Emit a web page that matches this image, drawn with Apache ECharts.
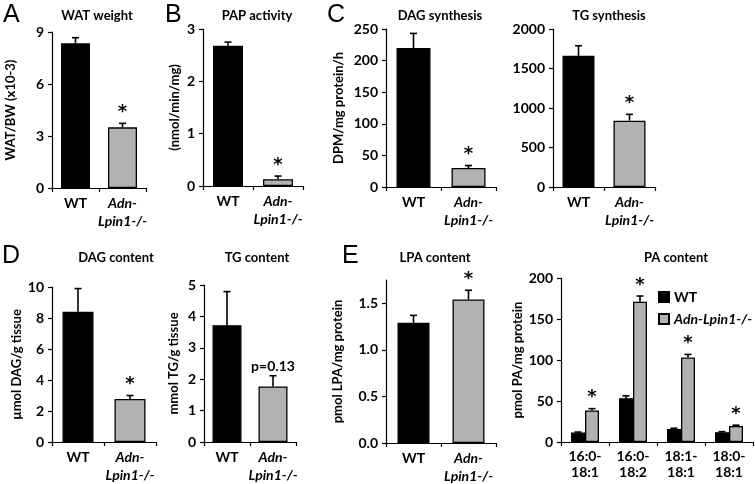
<!DOCTYPE html>
<html><head><meta charset="utf-8">
<script src="https://cdn.jsdelivr.net/npm/echarts@6/dist/echarts.min.js"></script>
<style>html,body{margin:0;padding:0;background:#fff}#c{width:755px;height:484px}</style>
</head><body><div id="c"></div>
<script>
// ---------- data ----------
const groups = ['WT', 'Adn-Lpin1-/-'];
const watWeight = [8.35, 3.5];
const watWeightErr = [0.32, 0.23];
const watWeightSig = ['', '*'];
const papActivity = [2.68, 0.13];
const papActivityErr = [0.07, 0.06];
const papActivitySig = ['', '*'];
const dagSynthesis = [220, 30];
const dagSynthesisErr = [23, 4];
const dagSynthesisSig = ['', '*'];
const tgSynthesis = [1660, 840];
const tgSynthesisErr = [128, 80];
const tgSynthesisSig = ['', '*'];
const dagContent = [8.4, 2.78];
const dagContentErr = [1.5, 0.22];
const dagContentSig = ['', '*'];
const tgContent = [3.72, 1.77];
const tgContentErr = [1.07, 0.34];
const tgContentSig = ['', 'p=0.13'];
const lpaContent = [1.29, 1.54];
const lpaContentErr = [0.08, 0.1];
const lpaContentSig = ['', '*'];
const lpaTicks = [0, 0.5, 1.0, 1.5];
const paSpecies = ['16:0-18:1', '16:0-18:2', '18:1-18:1', '18:0-18:1'];
const paWT = [11.5, 53.5, 16, 12];
const paWTErr = [0.6, 2.8, 0.8, 0.6];
const paWTSig = ['', '', '', ''];
const paKO = [38.5, 171, 103, 19.5];
const paKOErr = [2.2, 7, 3.8, 1];
const paKOSig = ['*', '*', '*', '*'];

// ---------- style / layout ----------
const FONT = 'Lato';
const BLACK = '#000000';
const GRAY = '#b2b2b2';
const axisCommon = {
  axisLine: {show: true, lineStyle: {color: '#000', width: 1.2}},
  axisTick: {show: true, length: 4, lineStyle: {color: '#000', width: 1.2}},
  splitLine: {show: false}
};
const simplePanels = [
  {v: watWeight, e: watWeightErr, s: watWeightSig, yName: 'WAT/BW (x10-3)', nameGap: 35,
   left: 52, top: 32, width: 94, height: 156, max: 9, interval: 3, bw: 29},
  {v: papActivity, e: papActivityErr, s: papActivitySig, yName: '(nmol/min/mg)', nameGap: 22,
   left: 203, top: 29, width: 100, height: 157, max: 3, interval: 1, bw: 30},
  {v: dagSynthesis, e: dagSynthesisErr, s: dagSynthesisSig, yName: 'DPM/mg protein/h', nameGap: 41,
   left: 386, top: 29, width: 110, height: 158, max: 250, interval: 50, bw: 34},
  {v: tgSynthesis, e: tgSynthesisErr, s: tgSynthesisSig, yName: '', nameGap: 40,
   left: 553, top: 29, width: 102, height: 158, max: 2000, interval: 500, bw: 32},
  {v: dagContent, e: dagContentErr, s: dagContentSig, yName: 'µmol DAG/g tissue', nameGap: 29,
   left: 52, top: 287, width: 104, height: 155, max: 10, interval: 2, bw: 31},
  {v: tgContent, e: tgContentErr, s: tgContentSig, yName: 'mmol TG/g tissue', nameGap: 24,
   left: 204, top: 285, width: 92, height: 157, max: 5, interval: 1, bw: 29},
  {v: lpaContent, e: lpaContentErr, s: lpaContentSig, yName: 'pmol LPA/mg protein', nameGap: 42,
   left: 386, top: 280, width: 110, height: 163, max: 1.75, interval: 0.5, bw: 32, ticks: lpaTicks, dec: 1}
];
const titles = [
  ['WAT weight', 97, 16], ['PAP activity', 257, 16], ['DAG synthesis', 440, 16], ['TG synthesis', 609, 16],
  ['DAG content', 116, 258], ['TG content', 257, 258], ['LPA content', 435, 258], ['PA content', 676, 258]
];
const letters = [['A', 3, 15], ['B', 165, 15], ['C', 327, 15], ['D', 2, 256], ['E', 342, 256]];

function errSeries(xi, vals, errs, sigs, offset) {
  return {
    type: 'custom', xAxisIndex: xi, yAxisIndex: xi, z: 5, silent: true,
    data: vals.map((v, i) => [i, v, errs[i]]),
    renderItem: (params, api) => {
      const i = api.value(0), v = api.value(1), e = api.value(2);
      const base = api.coord([i, v]);
      const top = api.coord([i, v + e]);
      const x = base[0] + offset;
      const cap = 3.5;
      const ch = [
        {type: 'line', shape: {x1: x, y1: base[1], x2: x, y2: top[1]}, style: {stroke: '#000', lineWidth: 1.6}},
        {type: 'line', shape: {x1: x - cap, y1: top[1], x2: x + cap, y2: top[1]}, style: {stroke: '#000', lineWidth: 1.6}}
      ];
      const s = sigs[params.dataIndex];
      if (s) {
        if (s === '*') {
          ch.push({type: 'text', x: x, y: top[1] - 11, style: {text: s, fill: '#000', font: 'bold 18px "DejaVu Sans"', textAlign: 'center', textVerticalAlign: 'middle'}});
        } else {
          ch.push({type: 'text', x: x, y: top[1] - 2, style: {text: s, fill: '#000', font: 'bold 14px ' + FONT, textAlign: 'center', textVerticalAlign: 'bottom'}});
        }
      }
      return {type: 'group', children: ch};
    }
  };
}

const grid = [], xAxis = [], yAxis = [], series = [];
simplePanels.forEach((p, k) => {
  grid.push({left: p.left, top: p.top, width: p.width, height: p.height});
  xAxis.push(Object.assign({}, axisCommon, {
    type: 'category', gridIndex: k, data: groups,
    axisLabel: {
      margin: 6, interval: 0, color: '#000',
      formatter: v => v === 'WT' ? '{n|WT}' : '{i|Adn-}\n{i|Lpin1-/-}',
      rich: {
        n: {fontFamily: FONT, fontWeight: 'bold', fontSize: 14, lineHeight: 18, color: '#000'},
        i: {fontFamily: FONT, fontWeight: 'bold', fontStyle: 'italic', fontSize: 14, lineHeight: 18, color: '#000'}
      }
    }
  }));
  const ya = Object.assign({}, axisCommon, {
    type: 'value', gridIndex: k, min: 0, max: p.max, interval: p.interval,
    name: p.yName, nameLocation: 'middle', nameGap: p.nameGap,
    nameTextStyle: {fontFamily: FONT, fontWeight: 'bold', fontSize: 13, color: '#000'},
    axisLabel: {margin: 8, color: '#000', fontFamily: FONT, fontWeight: 'bold', fontSize: 14,
      formatter: v => p.dec ? v.toFixed(p.dec) : String(v)}
  });
  if (p.ticks) {
    ya.axisLabel.customValues = p.ticks;
    ya.axisTick = Object.assign({}, axisCommon.axisTick, {customValues: p.ticks});
  }
  yAxis.push(ya);
  series.push({
    type: 'bar', name: 'panel' + k, xAxisIndex: k, yAxisIndex: k, barWidth: p.bw, silent: true,
    data: p.v.map((v, i) => ({value: v, itemStyle: {color: i ? GRAY : BLACK, borderColor: '#000', borderWidth: 1.3}}))
  });
  series.push(errSeries(k, p.v, p.e, p.s, 0));
});

// Panel E right: PA content (grouped)
const pk = simplePanels.length;
grid.push({left: 561, top: 278, width: 192, height: 164});
xAxis.push(Object.assign({}, axisCommon, {
  type: 'category', gridIndex: pk, data: paSpecies,
  axisLabel: {margin: 6, interval: 0, color: '#000', fontFamily: FONT, fontWeight: 'bold', fontSize: 14, lineHeight: 16,
    formatter: v => v.replace('-', '-\n')}
}));
yAxis.push(Object.assign({}, axisCommon, {
  type: 'value', gridIndex: pk, min: 0, max: 200, interval: 50,
  name: 'pmol PA/mg protein', nameLocation: 'middle', nameGap: 37,
  nameTextStyle: {fontFamily: FONT, fontWeight: 'bold', fontSize: 13, color: '#000'},
  axisLabel: {margin: 8, color: '#000', fontFamily: FONT, fontWeight: 'bold', fontSize: 14}
}));
series.push({type: 'bar', name: 'WT', xAxisIndex: pk, yAxisIndex: pk, barWidth: 14, barGap: '0%', silent: true,
  itemStyle: {color: BLACK, borderColor: '#000', borderWidth: 1.3}, data: paWT});
series.push({type: 'bar', name: 'Adn-Lpin1-/-', xAxisIndex: pk, yAxisIndex: pk, barWidth: 14, barGap: '0%', silent: true,
  itemStyle: {color: GRAY, borderColor: '#000', borderWidth: 1.3}, data: paKO});
series.push(errSeries(pk, paWT, paWTErr, paWTSig, -7));
series.push(errSeries(pk, paKO, paKOErr, paKOSig, 7));

const graphic = [];
titles.forEach(t => graphic.push({type: 'text', x: t[1], y: t[2], silent: true,
  style: {text: t[0], fill: '#000', font: 'bold 13px ' + FONT, textAlign: 'center', textVerticalAlign: 'middle'}}));
letters.forEach(t => graphic.push({type: 'text', x: t[1], y: t[2], silent: true,
  style: {text: t[0], fill: '#000', font: '25px "Liberation Sans"', textAlign: 'left', textVerticalAlign: 'middle'}}));

const chart = echarts.init(document.getElementById('c'), null, {renderer: 'canvas'});
chart.setOption({
  animation: false,
  backgroundColor: '#fff',
  grid, xAxis, yAxis, series, graphic,
  legend: {
    data: ['WT', 'Adn-Lpin1-/-'], orient: 'vertical', left: 658, top: 290, padding: 0,
    itemWidth: 10, itemHeight: 10, itemGap: 8, icon: 'rect', selectedMode: false,
    formatter: n => n === 'WT' ? '{n|WT}' : '{i|' + n + '}',
    textStyle: {rich: {
      n: {fontFamily: FONT, fontWeight: 'bold', fontSize: 14, color: '#000'},
      i: {fontFamily: FONT, fontWeight: 'bold', fontStyle: 'italic', fontSize: 14, color: '#000'}
    }}
  }
});
</script></body></html>
